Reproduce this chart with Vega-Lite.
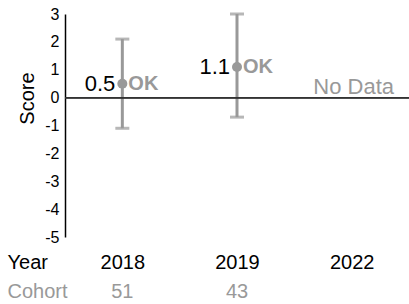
{
  "$schema": "https://vega.github.io/schema/vega-lite/v6.json",
  "autosize": "none",
  "width": 344,
  "height": 223,
  "padding": {"left": 65, "top": 14, "right": 0, "bottom": 67},
  "config": {
    "font": "Liberation Sans",
    "view": {"stroke": null}
  },
  "data": {
    "values": [
      {"year": "2018", "score": 0.5, "lower": -1.1, "upper": 2.1, "status": "OK", "cohort": "51"},
      {"year": "2019", "score": 1.1, "lower": -0.7, "upper": 3.0, "status": "OK", "cohort": "43"},
      {"year": "2022", "score": null, "lower": null, "upper": null, "status": "No Data", "cohort": ""}
    ]
  },
  "resolve": {"axis": {"x": "independent", "y": "independent"}},
  "layer": [
    {
      "mark": {"type": "rule", "color": "#999999", "strokeWidth": 3},
      "transform": [{"filter": "datum.score != null"}],
      "encoding": {
        "x": {
          "field": "year",
          "type": "ordinal",
          "scale": {"type": "point", "padding": 0.5, "domain": ["2018", "2019", "2022"]},
          "axis": {
            "orient": "bottom",
            "labelAngle": 0,
            "domain": false,
            "ticks": false,
            "labelFontSize": 20,
            "labelColor": "#000000",
            "labelBaseline": "alphabetic",
            "labelPadding": 31,
            "title": "Year",
            "titleFontSize": 20,
            "titleFontWeight": "normal",
            "titleColor": "#000000",
            "titleAnchor": "start",
            "titleAlign": "left",
            "titleBaseline": "alphabetic",
            "titleX": -58,
            "titleY": 31
          }
        },
        "y": {
          "field": "lower",
          "type": "quantitative",
          "scale": {"domain": [-5, 3], "nice": false, "zero": false},
          "axis": {
            "title": "Score",
            "values": [-5, -4, -3, -2, -1, 0, 1, 2, 3],
            "labelExpr": "'' + datum.value",
            "labelOverlap": false,
            "grid": false,
            "ticks": false,
            "domainColor": "#000000",
            "domainWidth": 1.5,
            "labelFontSize": 16,
            "labelColor": "#000000",
            "labelPadding": 6,
            "titleFontSize": 20,
            "titleFontWeight": "normal",
            "titleColor": "#000000",
            "titlePadding": 7,
            "titleY": 84
          }
        },
        "y2": {"field": "upper"}
      }
    },
    {
      "mark": {"type": "rule", "color": "#333333", "strokeWidth": 1.5},
      "encoding": {
        "y": {"datum": 0, "type": "quantitative", "axis": null}
      }
    },
    {
      "mark": {"type": "tick", "color": "#999999", "thickness": 3, "size": 14},
      "transform": [
        {"filter": "datum.score != null"},
        {"fold": ["lower", "upper"], "as": ["end", "bound"]}
      ],
      "encoding": {
        "x": {"field": "year", "type": "ordinal", "axis": null},
        "y": {"field": "bound", "type": "quantitative", "axis": null}
      }
    },
    {
      "mark": {"type": "point", "filled": true, "opacity": 1, "color": "#999999", "size": 100},
      "transform": [{"filter": "datum.score != null"}],
      "encoding": {
        "x": {"field": "year", "type": "ordinal", "axis": null},
        "y": {"field": "score", "type": "quantitative", "axis": null}
      }
    },
    {
      "mark": {"type": "text", "align": "right", "baseline": "middle", "dx": -7, "fontSize": 22, "color": "#000000"},
      "transform": [{"filter": "datum.score != null"}],
      "encoding": {
        "x": {"field": "year", "type": "ordinal", "axis": null},
        "y": {"field": "score", "type": "quantitative", "axis": null},
        "text": {"field": "score", "type": "quantitative", "format": ".1f"}
      }
    },
    {
      "mark": {"type": "text", "align": "left", "baseline": "middle", "dx": 6, "fontSize": 20, "fontWeight": "bold", "color": "#999999"},
      "transform": [{"filter": "datum.score != null"}],
      "encoding": {
        "x": {"field": "year", "type": "ordinal", "axis": null},
        "y": {"field": "score", "type": "quantitative", "axis": null},
        "text": {"field": "status"}
      }
    },
    {
      "mark": {"type": "text", "align": "center", "baseline": "alphabetic", "dx": 2, "dy": -4, "fontSize": 22, "color": "#999999"},
      "transform": [{"filter": "datum.score == null"}],
      "encoding": {
        "x": {"field": "year", "type": "ordinal", "axis": null},
        "y": {"datum": 0, "type": "quantitative", "axis": null},
        "text": {"field": "status"}
      }
    },
    {
      "mark": {"type": "text", "align": "center", "baseline": "alphabetic", "fontSize": 20, "color": "#999999", "clip": false},
      "encoding": {
        "x": {
          "field": "year",
          "type": "ordinal",
          "axis": {
            "orient": "top",
            "labels": false,
            "domain": false,
            "ticks": false,
            "title": "Cohort",
            "titleFontSize": 20,
            "titleFontWeight": "normal",
            "titleColor": "#999999",
            "titleAnchor": "start",
            "titleAlign": "left",
            "titleBaseline": "alphabetic",
            "titleX": -58,
            "titleY": 283
          }
        },
        "y": {"datum": -7.2, "type": "quantitative", "axis": null},
        "text": {"field": "cohort"}
      }
    }
  ]
}
